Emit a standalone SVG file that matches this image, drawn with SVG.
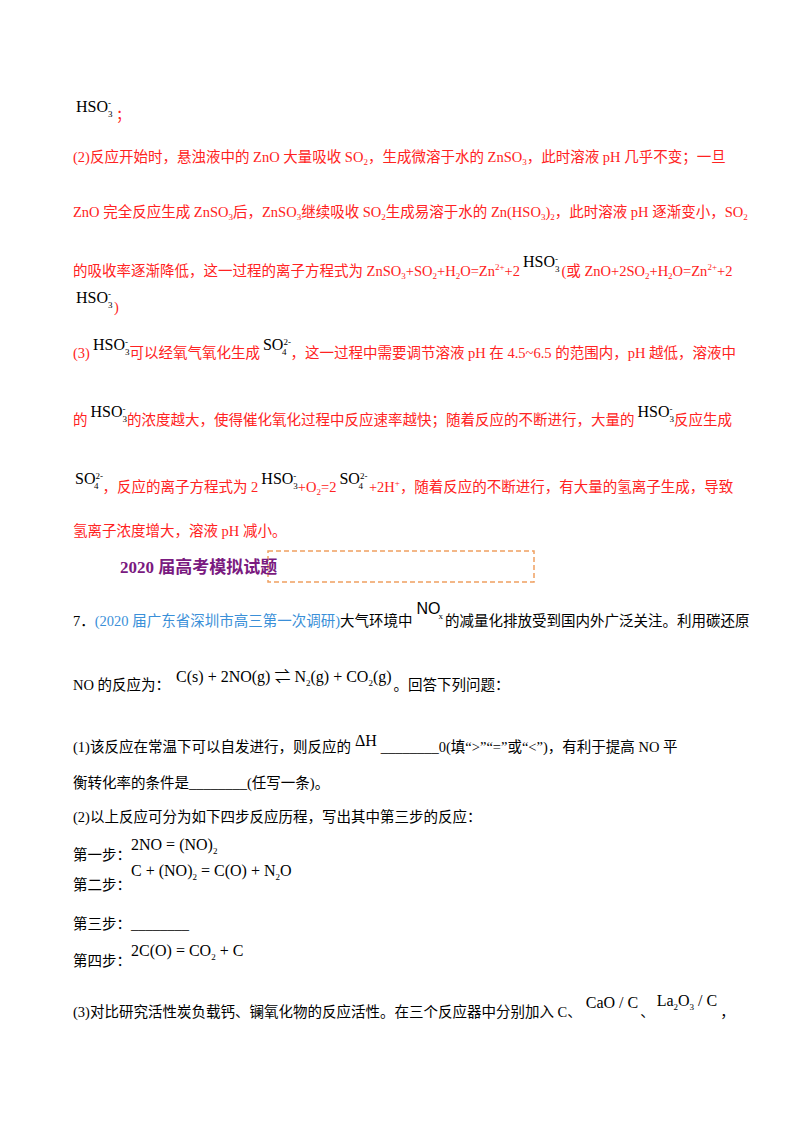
<svg xmlns="http://www.w3.org/2000/svg" width="800" height="1132" viewBox="0 0 800 1132">
<style>
text{font-family:"Liberation Serif","Noto Sans CJK SC",serif;font-size:14.5px;fill:#000}
.r{fill:#ff2222}
.k{fill:#000}
.b{fill:#3a8fd8}
.s{font-size:9px}
.m{font-size:16px}
.h{font-family:"Liberation Serif","Noto Sans CJK SC",serif;font-size:17px;font-weight:bold;fill:#7a1a80}
</style>
<rect width="800" height="1132" fill="#fff"/>
<g id="answer">
<text x="76" y="112" class="m">HSO<tspan class="s" dy="-6">-</tspan><tspan class="s" dx="-3" dy="11">3</tspan></text><text x="116" y="120" class="r">；</text>
<text x="73" y="162" class="r">(2)反应开始时，悬浊液中的 ZnO 大量吸收 SO<tspan class="s" dy="3">2</tspan><tspan dy="-3">，生成微溶于水的 ZnSO</tspan><tspan class="s" dy="3">3</tspan><tspan dy="-3">，此时溶液 pH 几乎不变；一旦</tspan></text>
<text x="73" y="217" class="r">ZnO 完全反应生成 ZnSO<tspan class="s" dy="3">3</tspan><tspan dy="-3">后，ZnSO</tspan><tspan class="s" dy="3">3</tspan><tspan dy="-3">继续吸收 SO</tspan><tspan class="s" dy="3">2</tspan><tspan dy="-3">生成易溶于水的 Zn(HSO</tspan><tspan class="s" dy="3">3</tspan><tspan dy="-3">)</tspan><tspan class="s" dy="3">2</tspan><tspan dy="-3">，此时溶液 pH 逐渐变小，SO</tspan><tspan class="s" dy="3">2</tspan></text>
<text x="73" y="276" class="r">的吸收率逐渐降低，这一过程的离子方程式为 ZnSO<tspan class="s" dy="3">3</tspan><tspan dy="-3">+SO</tspan><tspan class="s" dy="3">2</tspan><tspan dy="-3">+H</tspan><tspan class="s" dy="3">2</tspan><tspan dy="-3">O=Zn</tspan><tspan class="s" dy="-6">2+</tspan><tspan dy="6">+2</tspan><tspan class="m k" dx="3" dy="-9">HSO</tspan><tspan class="s k" dy="-5">-</tspan><tspan class="s k" dx="-3" dy="10">3</tspan><tspan dx="2" dy="4">(或 ZnO+2SO</tspan><tspan class="s" dy="3">2</tspan><tspan dy="-3">+H</tspan><tspan class="s" dy="3">2</tspan><tspan dy="-3">O=Zn</tspan><tspan class="s" dy="-6">2+</tspan><tspan dy="6">+2</tspan></text>
<text x="76" y="303" class="m">HSO<tspan class="s" dy="-6">-</tspan><tspan class="s" dx="-3" dy="11">3</tspan></text><text x="114" y="312" class="r">)</text>
<text x="73" y="358" class="r">(3)<tspan class="m k" dx="3" dy="-8">HSO</tspan><tspan class="s k" dy="-5">-</tspan><tspan class="s k" dx="-3" dy="10">3</tspan><tspan dy="3">可以经氧气氧化生成</tspan><tspan class="m k" dx="3" dy="-8">SO</tspan><tspan class="s k" dy="-5">2-</tspan><tspan class="s k" dx="-9" dy="10">4</tspan><tspan dx="4" dy="3">，这一过程中需要调节溶液 pH 在 4.5~6.5 的范围内，pH 越低，溶液中</tspan></text>
<text x="73" y="425" class="r">的<tspan class="m k" dx="3" dy="-8">HSO</tspan><tspan class="s k" dy="-5">-</tspan><tspan class="s k" dx="-3" dy="10">3</tspan><tspan dy="3">的浓度越大，使得催化氧化过程中反应速率越快；随着反应的不断进行，大量的</tspan><tspan class="m k" dx="3" dy="-8">HSO</tspan><tspan class="s k" dy="-5">-</tspan><tspan class="s k" dx="-3" dy="10">3</tspan><tspan dy="3">反应生成</tspan></text>
<text x="75" y="492" class="r"><tspan class="m k" dy="-8">SO</tspan><tspan class="s k" dy="-5">2-</tspan><tspan class="s k" dx="-9" dy="10">4</tspan><tspan dx="4" dy="3">，反应的离子方程式为 2</tspan><tspan class="m k" dx="3" dy="-8">HSO</tspan><tspan class="s k" dy="-5">-</tspan><tspan class="s k" dx="-3" dy="10">3</tspan><tspan dy="3">+O</tspan><tspan class="s" dy="3">2</tspan><tspan dy="-3">=2</tspan><tspan class="m k" dx="3" dy="-8">SO</tspan><tspan class="s k" dy="-5">2-</tspan><tspan class="s k" dx="-9" dy="10">4</tspan><tspan dx="6" dy="3">+2H</tspan><tspan class="s" dy="-6">+</tspan><tspan dy="6">，随着反应的不断进行，有大量的氢离子生成，导致</tspan></text>
<text x="73" y="536" class="r">氢离子浓度增大，溶液 pH 减小。</text>
</g>
<g id="header">
<rect x="268" y="551" width="266" height="31" fill="none" stroke="#f0a060" stroke-width="1.5" stroke-dasharray="5,3"/>
<text x="120" y="573" class="h">2020 届高考模拟试题</text>
</g>
<g id="question">
<text x="73" y="626">7．<tspan class="b">(2020 届广东省深圳市高三第一次调研)</tspan>大气环境中<tspan dx="4" dy="-12" style="font-family:'Liberation Sans',sans-serif;font-size:16px">NO</tspan><tspan class="s" dx="-2" dy="5">x</tspan><tspan dx="2" dy="7">的减量化排放受到国内外广泛关注。利用碳还原</tspan></text>
<text x="73" y="690">NO 的反应为：<tspan class="m" dx="6" dy="-8">C(s) + 2NO(g) ⇌  N</tspan><tspan class="s" dy="4">2</tspan><tspan class="m" dy="-4">(g) + CO</tspan><tspan class="s" dy="4">2</tspan><tspan class="m" dy="-4">(g)</tspan><tspan dx="2" dy="8">。回答下列问题：</tspan></text>
<text x="73" y="752">(1)该反应在常温下可以自发进行，则反应的<tspan class="m" dx="4" dy="-6">ΔH</tspan><tspan dx="4" dy="6">________0(填“&gt;”“=”或“&lt;”)，有利于提高 NO 平</tspan></text>
<text x="73" y="788">衡转化率的条件是________(任写一条)。</text>
<text x="73" y="822">(2)以上反应可分为如下四步反应历程，写出其中第三步的反应：</text>
<text x="73" y="860">第一步：</text>
<text x="131" y="850" class="m">2NO = (NO)<tspan class="s" dy="4">2</tspan></text>
<text x="73" y="890">第二步：</text>
<text x="131" y="876" class="m">C + (NO)<tspan class="s" dy="4">2</tspan><tspan dy="-4"> = C(O) + N</tspan><tspan class="s" dy="4">2</tspan><tspan dy="-4">O</tspan></text>
<text x="73" y="929">第三步：________</text>
<text x="73" y="966">第四步：</text>
<text x="131" y="956" class="m">2C(O) = CO<tspan class="s" dy="4">2</tspan><tspan dy="-4"> + C</tspan></text>
<text x="73" y="1017">(3)对比研究活性炭负载钙、镧氧化物的反应活性。在三个反应器中分别加入 C、<tspan class="m" dx="4" dy="-9">CaO / C</tspan><tspan dx="2" dy="9">、</tspan><tspan class="m" dx="2" dy="-11">La</tspan><tspan class="s" dy="4">2</tspan><tspan class="m" dy="-4">O</tspan><tspan class="s" dy="4">3</tspan><tspan class="m" dy="-4"> / C</tspan><tspan dx="3" dy="11">，</tspan></text>
</g>
</svg>
